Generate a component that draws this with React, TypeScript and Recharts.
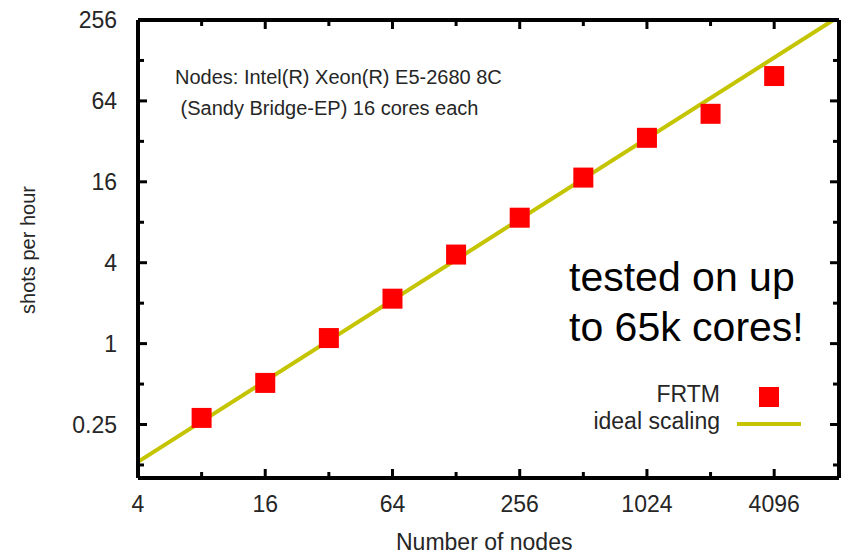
import { ComposedChart, Line, Scatter, XAxis, YAxis } from "recharts";

// values (log-log)
const nodes = [8, 16, 32, 64, 128, 256, 512, 1024, 2048, 4096];
const shotsPerHour = [0.28, 0.51, 1.1, 2.16, 4.6, 8.65, 17.2, 34, 51.3, 98];
const idealNodes = [4, 7800];
const idealShots = [0.132, 256];

const xTicks = [4, 8, 16, 32, 64, 128, 256, 512, 1024, 2048, 4096];
const xLabels = [4, 16, 64, 256, 1024, 4096];
const yTicks = [0.125, 0.25, 0.5, 1, 2, 4, 8, 16, 32, 64, 128, 256];
const yLabels = [0.25, 1, 4, 16, 64, 256];

const frtm = nodes.map((n, i) => ({ nodes: n, shots: shotsPerHour[i] }));
const ideal = idealNodes.map((n, i) => ({ nodes: n, shots: idealShots[i] }));

const FONT = "'Liberation Sans', Arial, sans-serif";
const TEXT = "#262626";

const BottomTick = (props: any) => {
  const { x, y, payload } = props;
  const major = xLabels.includes(payload.value);
  return (
    <g>
      <line x1={x} x2={x} y1={y} y2={y - (major ? 9 : 6)} stroke="#000" strokeWidth={3} />
      {major && (
        <text x={x} y={y + 34} textAnchor="middle" fontSize={23} fill={TEXT} fontFamily={FONT}>
          {payload.value}
        </text>
      )}
    </g>
  );
};

const TopTick = (props: any) => {
  const { x, y, payload } = props;
  const major = xLabels.includes(payload.value);
  return <line x1={x} x2={x} y1={y} y2={y + (major ? 9 : 6)} stroke="#000" strokeWidth={3} />;
};

const LeftTick = (props: any) => {
  const { x, y, payload } = props;
  const major = yLabels.includes(payload.value);
  return (
    <g>
      <line x1={x} x2={x + (major ? 9 : 6)} y1={y} y2={y} stroke="#000" strokeWidth={3} />
      {major && (
        <text x={x - 21} y={y + 8} textAnchor="end" fontSize={23} fill={TEXT} fontFamily={FONT}>
          {payload.value}
        </text>
      )}
    </g>
  );
};

const RightTick = (props: any) => {
  const { x, y, payload } = props;
  const major = yLabels.includes(payload.value);
  return <line x1={x} x2={x - (major ? 9 : 6)} y1={y} y2={y} stroke="#000" strokeWidth={3} />;
};

const SquareDot = (props: any) => {
  const { cx, cy } = props;
  return <rect x={cx - 10} y={cy - 10} width={20} height={20} fill="#ff0000" />;
};

const axisLine = { stroke: "#000", strokeWidth: 4 };

export default function App() {
  return (
    <div style={{ position: "absolute", left: 0, top: 0, width: 841, height: 555, background: "#fff", fontFamily: FONT }}>
      <ComposedChart width={841} height={555} margin={{ top: 19, right: 1, bottom: 76, left: 137 }}>
        <XAxis
          xAxisId="b"
          dataKey="nodes"
          type="number"
          scale="log"
          domain={[4, 8300]}
          allowDataOverflow
          ticks={xTicks}
          interval={0}
          height={1}
          tickSize={0}
          tickMargin={0}
          tickLine={false}
          axisLine={axisLine}
          tick={BottomTick}
        />
        <XAxis
          xAxisId="t"
          orientation="top"
          dataKey="nodes"
          type="number"
          scale="log"
          domain={[4, 8300]}
          allowDataOverflow
          ticks={xTicks}
          interval={0}
          height={1}
          tickSize={0}
          tickMargin={0}
          tickLine={false}
          axisLine={axisLine}
          tick={TopTick}
        />
        <YAxis
          yAxisId="l"
          dataKey="shots"
          type="number"
          scale="log"
          domain={[0.1, 256]}
          allowDataOverflow
          ticks={yTicks}
          interval={0}
          width={1}
          tickSize={0}
          tickMargin={0}
          tickLine={false}
          axisLine={axisLine}
          tick={LeftTick}
        />
        <YAxis
          yAxisId="r"
          orientation="right"
          dataKey="shots"
          type="number"
          scale="log"
          domain={[0.1, 256]}
          allowDataOverflow
          ticks={yTicks}
          interval={0}
          width={1}
          tickSize={0}
          tickMargin={0}
          tickLine={false}
          axisLine={axisLine}
          tick={RightTick}
        />
        <Line
          xAxisId="b"
          yAxisId="l"
          data={ideal}
          dataKey="shots"
          stroke="#c4c400"
          strokeWidth={4}
          dot={false}
          isAnimationActive={false}
        />
        <Line
          xAxisId="t"
          yAxisId="r"
          data={ideal}
          dataKey="shots"
          stroke="none"
          dot={false}
          isAnimationActive={false}
        />
        <Scatter
          xAxisId="b"
          yAxisId="l"
          data={frtm}
          dataKey="shots"
          fill="#ff0000"
          shape={SquareDot}
          isAnimationActive={false}
        />
      </ComposedChart>

      {/* axis titles */}
      <div style={{ position: "absolute", left: 396, top: 529, fontSize: 23, color: TEXT, whiteSpace: "nowrap" }}>
        Number of nodes
      </div>
      <div
        style={{
          position: "absolute",
          left: 28,
          top: 250,
          fontSize: 20,
          color: TEXT,
          whiteSpace: "nowrap",
          transform: "translate(-50%, -50%) rotate(-90deg)",
        }}
      >
        shots per hour
      </div>

      {/* annotations */}
      <div style={{ position: "absolute", left: 175, top: 62, fontSize: 20, lineHeight: "31px", color: TEXT, whiteSpace: "pre" }}>
        {"Nodes: Intel(R) Xeon(R) E5-2680 8C\n (Sandy Bridge-EP) 16 cores each"}
      </div>
      <div style={{ position: "absolute", left: 569, top: 252, fontSize: 41, lineHeight: "50px", color: "#000", whiteSpace: "pre" }}>
        {"tested on up\nto 65k cores!"}
      </div>

      {/* legend */}
      <div style={{ position: "absolute", right: 841 - 720, top: 381, fontSize: 23, color: TEXT, textAlign: "right", lineHeight: "27px" }}>
        <div>FRTM</div>
        <div>ideal scaling</div>
      </div>
      <div style={{ position: "absolute", left: 759, top: 387, width: 20, height: 20, background: "#ff0000" }} />
      <div style={{ position: "absolute", left: 737, top: 422, width: 64, height: 4, background: "#c4c400" }} />
    </div>
  );
}
